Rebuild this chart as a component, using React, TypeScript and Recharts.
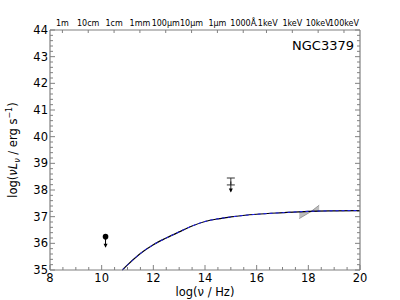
import { ComposedChart, Line, Area, Scatter, ErrorBar, XAxis, YAxis, Label } from 'recharts';

// model SED (log nu, log nuLnu)
const modelNu = [10.8, 11, 11.5, 12, 12.5, 13, 13.5, 14, 14.5, 15, 16, 17, 18, 19, 20];
const modelL = [35.0, 35.19, 35.62, 35.95, 36.2, 36.43, 36.65, 36.82, 36.92, 36.99, 37.09, 37.15, 37.2, 37.22, 37.23];

// radio upper limit
const radioNu = [10.15];
const radioL = [36.25];

// IR upper limit with error bar
const irNu = [15.0];
const irL = [38.32];
const irErr = [0.13];

// X-ray bowtie
const bowNu = [17.65, 18.1, 18.42];
const bowLow = [36.93, 37.19, 37.2];
const bowHigh = [37.19, 37.19, 37.43];

const xMajor = [8, 10, 12, 14, 16, 18, 20];
const yMajor = [35, 36, 37, 38, 39, 40, 41, 42, 43, 44];
const topPos = [8.48, 9.48, 10.48, 11.48, 12.48, 13.48, 14.48, 15.48, 16.38, 17.38, 18.38, 19.38];
const topLabels = ['1m', '10cm', '1cm', '1mm', '100\u03bcm', '10\u03bcm', '1\u03bcm', '1000\u00c5', '.1keV', '1keV', '10keV', '100keV'];

const xTicks: number[] = [];
for (let i = 0; i <= 24; i++) xTicks.push(8 + i * 0.5);
const yTicks: number[] = [];
for (let i = 0; i <= 45; i++) yTicks.push(Math.round((35 + i * 0.2) * 10) / 10);

const modelData = modelNu.map((x, i) => ({ x, y: modelL[i] }));
const radioData = radioNu.map((x, i) => ({ x, y: radioL[i] }));
const irData = irNu.map((x, i) => ({ x, y: irL[i], err: irErr[i] }));
const bowData = bowNu.map((x, i) => ({ x, range: [bowLow[i], bowHigh[i]] }));
const topData = topPos.map((x) => ({ x, y: 44 }));

const FONT = 'DejaVu Sans';
const AX = '#808080';

const BottomTick = ({ x, y, payload }: any) => {
  const major = xMajor.includes(payload.value);
  return (
    <g>
      <line x1={x} x2={x} y1={y} y2={y - (major ? 5 : 3)} stroke={AX} />
      {major && (
        <text x={x} y={y + 12} textAnchor="middle" fontSize={11.5} fontFamily={FONT} fill="#000">
          {payload.value}
        </text>
      )}
    </g>
  );
};

const LeftTick = ({ x, y, payload }: any) => {
  const major = yMajor.includes(payload.value);
  return (
    <g>
      <line x1={x} x2={x + (major ? 5 : 3)} y1={y} y2={y} stroke={AX} />
      {major && (
        <text x={x - 2} y={y + 4} textAnchor="end" fontSize={11.5} fontFamily={FONT} fill="#000">
          {payload.value}
        </text>
      )}
    </g>
  );
};

const RightTick = ({ x, y, payload }: any) => {
  const major = yMajor.includes(payload.value);
  return <line x1={x} x2={x - (major ? 5 : 3)} y1={y} y2={y} stroke={AX} />;
};

const TopTick = ({ x, y, payload }: any) => {
  let i = -1;
  topPos.forEach((p, k) => {
    if (Math.abs(p - payload.value) < 0.01) i = k;
  });
  return (
    <g>
      <line x1={x} x2={x} y1={y} y2={y + 3} stroke={AX} />
      <text x={x} y={y - 4} textAnchor="middle" fontSize={8} fontFamily={FONT} fill="#000">
        {i >= 0 ? topLabels[i] : ''}
      </text>
    </g>
  );
};

const LimitShape = ({ cx, cy }: any) => (
  <g>
    <circle cx={cx} cy={cy} r={2.8} fill="#000" />
    <line x1={cx} x2={cx} y1={cy} y2={cy + 10} stroke="#000" strokeWidth={1} />
    <path d={`M${cx - 2},${cy + 7} L${cx + 2},${cy + 7} L${cx},${cy + 11} Z`} fill="#000" />
  </g>
);

const ArrowShape = ({ cx, cy }: any) => (
  <g>
    <line x1={cx} x2={cx} y1={cy} y2={cy + 10} stroke="#222" strokeWidth={1} />
    <path d={`M${cx - 2},${cy + 7} L${cx + 2},${cy + 7} L${cx},${cy + 11} Z`} fill="#000" />
  </g>
);

const NoShape = () => <g />;

const YLabel = ({ viewBox }: any) => {
  const cx = 17;
  const cy = viewBox.y + viewBox.height / 2;
  return (
    <text
      x={cx}
      y={cy}
      transform={`rotate(-90, ${cx}, ${cy})`}
      textAnchor="middle"
      fontSize={11.5}
      fontFamily={FONT}
      fill="#000"
    >
      log(<tspan fontStyle="italic">ν</tspan>
      <tspan fontStyle="italic">L</tspan>
      <tspan fontStyle="italic" fontSize={8} dy={3}>ν</tspan>
      <tspan dy={-3}> / erg s</tspan>
      <tspan fontSize={8} dy={-5}>−1</tspan>
      <tspan dy={5}>)</tspan>
    </text>
  );
};

export default function App() {
  return (
    <div style={{ position: 'absolute', left: 0, top: 0, width: 400, height: 300, background: '#fff' }}>
      <ComposedChart width={400} height={300} margin={{ top: 0, right: 0, bottom: 0, left: 0 }}>
        <XAxis
          xAxisId="bottom"
          dataKey="x"
          type="number"
          domain={[8, 20]}
          ticks={xTicks}
          interval={0}
          height={30}
          tickSize={0}
          tickMargin={0}
          tick={<BottomTick />}
          axisLine={{ stroke: AX, strokeWidth: 1.2 }}
          tickLine={false}
        >
          <Label value="log(ν / Hz)" position="insideBottom" offset={4} fontSize={11.5} fontFamily={FONT} fill="#000" />
        </XAxis>
        <XAxis
          xAxisId="top"
          dataKey="x"
          orientation="top"
          type="number"
          domain={[8, 20]}
          ticks={topPos}
          interval={0}
          height={30}
          tickSize={0}
          tickMargin={0}
          tick={<TopTick />}
          axisLine={{ stroke: AX, strokeWidth: 1.2 }}
          tickLine={false}
        />
        <YAxis
          yAxisId="left"
          type="number"
          domain={[35, 44]}
          ticks={yTicks}
          interval={0}
          width={50}
          tickSize={0}
          tickMargin={0}
          tick={<LeftTick />}
          axisLine={{ stroke: AX, strokeWidth: 1.2 }}
          tickLine={false}
        >
          <Label content={<YLabel />} />
        </YAxis>
        <YAxis
          yAxisId="right"
          orientation="right"
          type="number"
          domain={[35, 44]}
          ticks={yTicks}
          interval={0}
          width={40}
          tickSize={0}
          tickMargin={0}
          tick={<RightTick />}
          axisLine={{ stroke: AX, strokeWidth: 1.2 }}
          tickLine={false}
        />
        <Scatter
          xAxisId="top"
          yAxisId="right"
          data={topData}
          dataKey="y"
          shape={<NoShape />}
          isAnimationActive={false}
        />
        <Area
          xAxisId="bottom"
          yAxisId="left"
          data={bowData}
          dataKey="range"
          type="linear"
          stroke="#999"
          strokeWidth={1}
          fill="#bdbdbd"
          fillOpacity={1}
          isAnimationActive={false}
        />
        <Line
          xAxisId="bottom"
          yAxisId="left"
          data={modelData}
          dataKey="y"
          type="monotone"
          stroke="#000"
          strokeWidth={1.2}
          dot={false}
          isAnimationActive={false}
        />
        <Line
          xAxisId="bottom"
          yAxisId="left"
          data={modelData}
          dataKey="y"
          type="monotone"
          stroke="#2020ff"
          strokeWidth={1}
          strokeDasharray="3 3"
          dot={false}
          isAnimationActive={false}
        />
        <Scatter
          xAxisId="bottom"
          yAxisId="left"
          data={radioData}
          dataKey="y"
          shape={<LimitShape />}
          isAnimationActive={false}
        />
        <Scatter
          xAxisId="bottom"
          yAxisId="left"
          data={irData}
          dataKey="y"
          shape={<ArrowShape />}
          isAnimationActive={false}
        >
          <ErrorBar dataKey="err" direction="y" width={4} stroke="#333" strokeWidth={1} />
        </Scatter>
      </ComposedChart>
      <div
        style={{
          position: 'absolute',
          left: 280,
          top: 38,
          width: 74,
          textAlign: 'right',
          fontFamily: FONT,
          fontSize: 13,
          color: '#000',
        }}
      >
        NGC3379
      </div>
    </div>
  );
}
